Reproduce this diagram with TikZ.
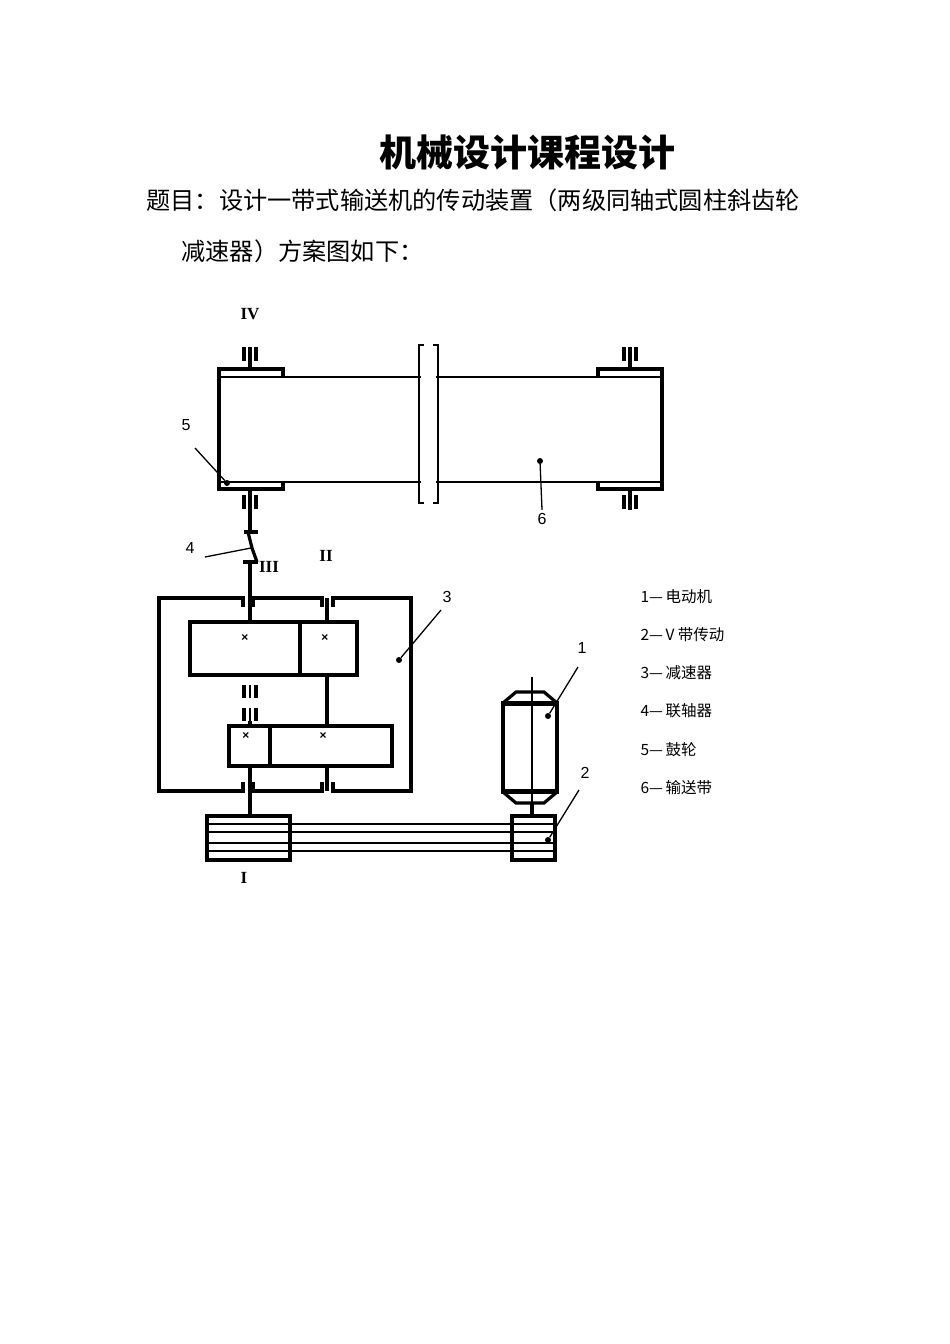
\documentclass[tikz,border=0pt]{standalone}
\usepackage{fontspec}
\setmainfont{Liberation Serif}
\newfontfamily\cjk{Noto Sans CJK SC}
\newfontfamily\lsans{Liberation Sans}
\begin{document}
\begin{tikzpicture}[x=1pt,y=-1pt,
  thick/.style={line width=3.2pt},
  thinl/.style={line width=1.3pt},
  numlab/.style={font=\lsans\fontsize{16}{16}\selectfont},
  roman/.style={font=\bfseries\fontsize{17}{17}\selectfont},
  leg/.style={font=\cjk\fontsize{15.5}{15.5}\selectfont,anchor=west},
  dotm/.style={fill,circle,inner sep=0pt,minimum size=6pt}]
\useasboundingbox (0,0) rectangle (950,1344);
% texts
\node[font=\cjk\bfseries\fontsize{37}{37}\selectfont] (title) at (527,153) {机械设计课程设计};
\node[font=\cjk\fontsize{24.2}{24.2}\selectfont,anchor=west] (l1) at (143,200) {题目：设计一带式输送机的传动装置（两级同轴式圆柱斜齿轮};
\node[font=\cjk\fontsize{24.2}{24.2}\selectfont,anchor=west] (l2) at (178,251) {减速器）方案图如下：};
% drum
\draw[thick] (283,377)--(283,369)--(219,369)--(219,489)--(283,489)--(283,482);
\draw[thick] (598,377)--(598,369)--(662,369)--(662,489)--(598,489)--(598,482);
\draw[thinl] (219,377)--(421,377) (436,377)--(662,377);
\draw[thinl] (219,482)--(421,482) (436,482)--(662,482);
\draw[thinl] (424,345)--(419,345)--(419,503)--(424,503);
\draw[thinl] (433,345)--(438,345)--(438,503)--(433,503);
% drum shafts & bearings
\foreach \sx in {250,630}{
 \draw[thick] (\sx,347)--(\sx,369) (\sx-6,347)--(\sx-6,361) (\sx+6,347)--(\sx+6,361);
 \draw[thick] (\sx+6,495)--(\sx+6,509) (\sx-6,495)--(\sx-6,509);}
\draw[thick] (630,489)--(630,510);
\draw[thick] (250,489)--(250,532);
% coupling
\draw[thick] (244,532)--(258,532);
\draw[thick] (248,532)--(252,548)--(257,562);
\draw[thick] (243,562)--(258,562);
\draw[thick] (250,562)--(250,622);
% housing
\draw[thick] (243,607)--(243,598)--(159,598)--(159,791)--(243,791)--(243,782);
\draw[thick] (253,607)--(253,598)--(322,598)--(322,607);
\draw[thick] (333,607)--(333,598)--(411,598)--(411,791)--(333,791)--(333,782);
\draw[thick] (322,782)--(322,791)--(253,791)--(253,782);
\draw[thick] (327,598)--(327,622) (327,675)--(327,726) (327,766)--(327,791);
% gears
\draw[thick] (190,622) rectangle (357,675) (300,622)--(300,675);
\draw[thick] (229,726) rectangle (392,766) (270,726)--(270,766);
\foreach \p in {(245,638),(325,638),(246,736),(323,736)}
  \node[font=\lsans\bfseries\fontsize{12}{12}\selectfont] at \p {×};
% shaft III bearings between gears
\draw[thick] (244,685)--(244,698) (256,685)--(256,698) (244,708)--(244,721) (256,708)--(256,721);
\draw[thinl] (250,685)--(250,698) (250,708)--(250,721);
\draw[thick] (250,721)--(250,726);
% shaft I
\draw[thick] (250,766)--(250,816);
% pulleys and belt
\draw[thick] (207,816) rectangle (290,860);
\draw[thick] (512,816) rectangle (555,860);
\foreach \yy in {824,832,843,851} \draw[thinl] (207,\yy)--(555,\yy);
\draw[thick] (512,824)--(512,851);
\draw[thick] (290,824)--(290,851);
% motor
\draw[thick] (503,703) rectangle (557,792);
\draw[thick] (503,703)--(516,692)--(544,692)--(557,703);
\draw[thick] (503,792)--(516,803)--(544,803)--(557,792);
\draw[line width=4.5pt] (503,704)--(557,704) (503,791)--(557,791);
\draw[thinl] (532,677)--(532,803);
\draw[thick] (532,803)--(532,816);
% labels and leaders
\node[roman] (iv) at (250,314) {IV};
\node[roman] (ii) at (326,556) {II};
\node[roman] (iii) at (269,567) {III};
\node[roman] (i) at (244,878) {I};
\node[numlab] (n5) at (186,425) {5};
\node[dotm] (d5) at (227,483) {};
\draw[thinl] (195,448)--(d5);
\node[numlab] (n4) at (190,548) {4};
\coordinate (c4) at (251,548);
\draw[thinl] (205,557)--(c4);
\node[numlab] (n6) at (542,519) {6};
\node[dotm] (d6) at (540,461) {};
\draw[thinl] (n6.north)--(d6);
\node[numlab] (n3) at (447,597) {3};
\node[dotm] (d3) at (399,660) {};
\draw[thinl] (441,610)--(d3);
\node[numlab] (n1) at (582,648) {1};
\node[dotm] (d1) at (548,716) {};
\draw[thinl] (578,667)--(d1);
\node[numlab] (n2) at (585,773) {2};
\node[dotm] (d2) at (548,840) {};
\draw[thinl] (579,790)--(d2);
% legend
\node[leg] (g1) at (637,597) {1—\,电动机};
\node[leg] (g2) at (637,635) {2—\,V 带传动};
\node[leg] (g3) at (637,673) {3—\,减速器};
\node[leg] (g4) at (637,711) {4—\,联轴器};
\node[leg] (g5) at (637,750) {5—\,鼓轮};
\node[leg] (g6) at (637,788) {6—\,输送带};
\end{tikzpicture}
\end{document}
